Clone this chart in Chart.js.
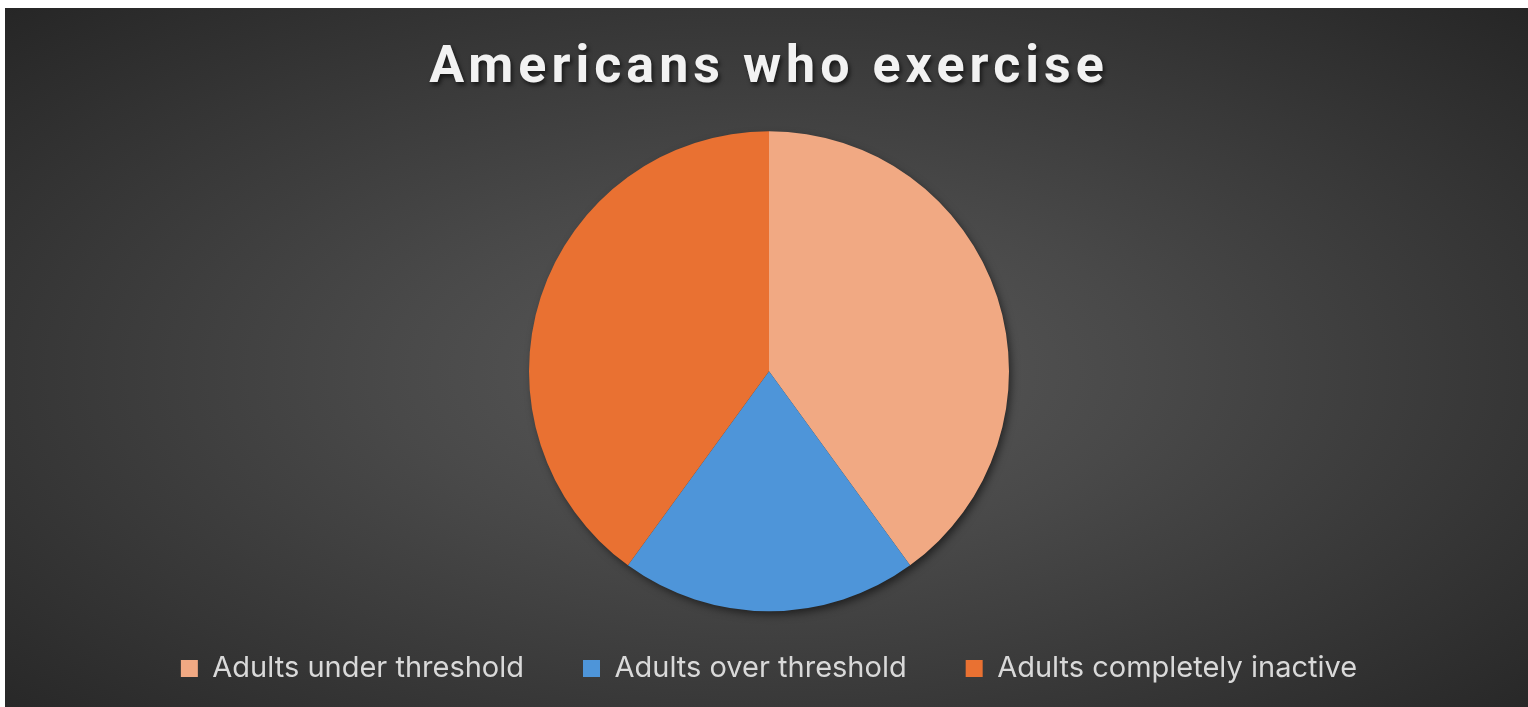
<!DOCTYPE html>
<html>
<head>
<meta charset="utf-8">
<script src="https://cdn.jsdelivr.net/npm/chart.js@4"></script>
<style>
  html, body { margin: 0; padding: 0; background: #fff; }
  #wrap {
    position: absolute; left: 5px; top: 8px; width: 1523px; height: 699px;
    background: radial-gradient(ellipse at 50% 52%, #5a5a5a 0%, #494949 35%, #262626 100%);
  }
</style>
</head>
<body>
<div id="wrap"><canvas id="exerciseChart"></canvas></div>
<script>
const categories = ['Adults under threshold', 'Adults over threshold', 'Adults completely inactive']
const shares = [40, 20, 40]
const sliceColors = ['#F1A983', '#4E95D9', '#E97132']

// soft shadow under the whole pie + spaced, shadowed title
const pieShadow = {
    id: 'pieShadow',
    afterInit(chart) {
        const t = chart.titleBlock
        const orig = t.draw.bind(t)
        t.draw = function () {
            const ctx = chart.ctx
            ctx.save()
            ctx.letterSpacing = '5px'
            ctx.shadowColor = 'rgba(0,0,0,0.6)'
            ctx.shadowOffsetX = 2
            ctx.shadowOffsetY = 3
            ctx.shadowBlur = 4
            orig()
            ctx.restore()
        }
    },
    beforeDatasetsDraw(chart) {
        const arc = chart.getDatasetMeta(0).data[0]
        if (!arc) return
        const ctx = chart.ctx
        ctx.save()
        ctx.shadowColor = 'rgba(0,0,0,0.55)'
        ctx.shadowOffsetX = 3
        ctx.shadowOffsetY = 4
        ctx.shadowBlur = 8
        ctx.fillStyle = '#333'
        ctx.beginPath()
        ctx.arc(arc.x, arc.y, arc.outerRadius - 1, 0, Math.PI * 2)
        ctx.fill()
        ctx.restore()
    }
}

const renderExerciseChart = () => {
    const data = {
        labels: categories,
        datasets: [{
            data: shares,
            backgroundColor: sliceColors,
            borderWidth: 0
        }]
    }

    const options = {
        responsive: true,
        maintainAspectRatio: false,
        animation: false,
        radius: 240,
        layout: { padding: { left: 5, bottom: 14 } },
        plugins: {
            title: {
                display: true,
                text: 'Americans who exercise',
                color: '#F2F2F2',
                font: { family: 'Roboto', size: 52, weight: 'bold' },
                padding: { top: 30, bottom: 47 }
            },
            legend: {
                position: 'bottom',
                labels: {
                    color: '#D9D9D9',
                    font: { family: 'Inter', size: 29 },
                    boxWidth: 17,
                    boxHeight: 17,
                    padding: 59
                }
            },
            tooltip: { enabled: false }
        }
    }

    new Chart('exerciseChart', { type: 'pie', data, options, plugins: [pieShadow] })
}

renderExerciseChart()
</script>
</body>
</html>
